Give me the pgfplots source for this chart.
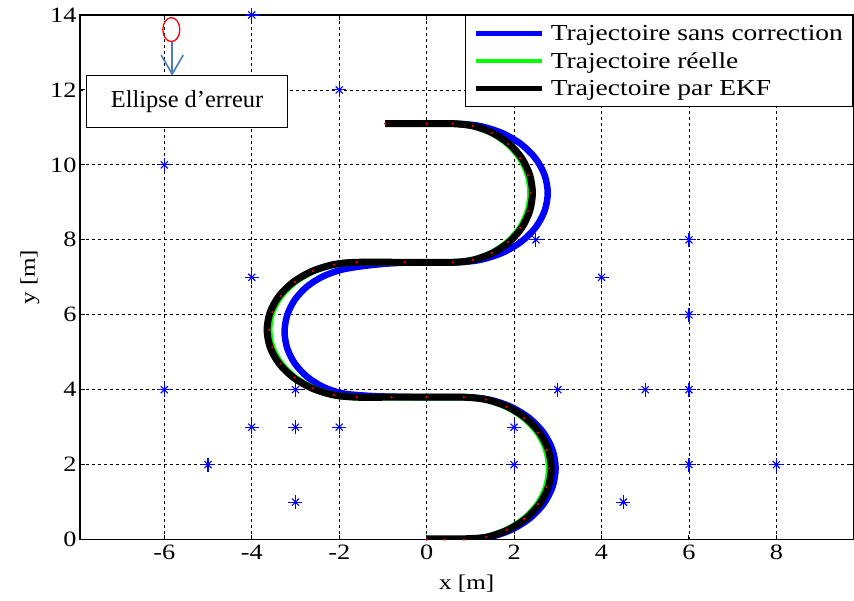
\documentclass[border=0pt]{standalone}
\usepackage{fontspec}
\setmainfont{Liberation Serif}
\newfontfamily\stretchfont{Liberation Serif}[FakeStretch=1.2]
\usepackage{pgfplots}
\pgfplotsset{compat=1.18}
\usetikzlibrary{arrows.meta}
\definecolor{arrowblue}{RGB}{74,126,187}

\pgfplotstableread{
x y
0 0
0.4 0
0.85 0
1.355 0.065
1.825 0.255
2.229 0.557
2.539 0.95
2.734 1.408
2.8 1.9
2.734 2.392
2.539 2.85
2.229 3.243
1.825 3.545
1.355 3.735
0.85 3.8
0 3.8
-0.8 3.8
-1.6 3.8
-2.118 3.861
-2.599 4.041
-3.013 4.327
-3.331 4.7
-3.531 5.134
-3.599 5.6
-3.531 6.066
-3.331 6.5
-3.013 6.873
-2.599 7.159
-2.118 7.339
-1.6 7.4
-0.5 7.4
0.6 7.4
1.059 7.463
1.487 7.648
1.855 7.942
2.137 8.325
2.314 8.771
2.375 9.25
2.314 9.729
2.137 10.175
1.855 10.558
1.487 10.852
1.059 11.037
0.6 11.1
0 11.1
-0.95 11.1
}\reel

\pgfplotstableread{
x y
0 0.02
0.4 0.02
0.85 0.02
1.368 0.065
1.85 0.255
2.264 0.557
2.582 0.95
2.782 1.408
2.85 1.9
2.782 2.392
2.582 2.85
2.264 3.243
1.85 3.545
1.368 3.735
0.85 3.8
0 3.8
-0.8 3.8
-1.6 3.8
-2.131 3.861
-2.625 4.041
-3.049 4.327
-3.375 4.7
-3.58 5.134
-3.65 5.6
-3.58 6.066
-3.375 6.5
-3.049 6.873
-2.625 7.159
-2.131 7.339
-1.6 7.4
-0.5 7.4
0.6 7.4
1.071 7.463
1.51 7.648
1.887 7.942
2.176 8.325
2.358 8.771
2.42 9.25
2.358 9.729
2.176 10.175
1.887 10.558
1.51 10.852
1.071 11.037
0.6 11.1
0 11.1
-0.95 11.1
}\ekf

\pgfplotstableread{
x y
0 0
0.4 0
0.9 0
1.431 0.065
1.925 0.255
2.349 0.557
2.675 0.95
2.88 1.408
2.95 1.9
2.88 2.392
2.675 2.85
2.349 3.243
1.925 3.545
1.431 3.735
0.9 3.8
0 3.8
-1.0 3.82
-1.5 3.85
-1.953 3.908
-2.375 4.078
-2.737 4.348
-3.016 4.7
-3.19 5.11
-3.25 5.55
-3.19 5.99
-3.016 6.4
-2.737 6.752
-2.375 7.022
-1.953 7.2
-1.45 7.3
-0.85 7.37
-0.2 7.4
0.67 7.4
1.214 7.463
1.72 7.648
2.155 7.942
2.489 8.325
2.698 8.771
2.77 9.25
2.698 9.729
2.489 10.175
2.155 10.558
1.72 10.852
1.214 11.037
0.67 11.1
0 11.1
-0.9 11.1
}\sanscorr

\pgfplotstableread{
x y
-4 14
-2 12
-6 10
2.5 8
6 8
-4 7
4 7
6 6
-6 4
-3 4
3 4
5 4
6 4
-4 3
-3 3
-2 3
2 3
-5 2
2 2
6 2
8 2
-3 1
4.5 1
}\amers

\begin{document}
\begin{tikzpicture}
\begin{axis}[
  scale only axis,
  width=774bp, height=525bp,
  xmin=-7.93, xmax=9.76, ymin=0, ymax=14,
  xtick={-6,-4,...,8}, ytick={0,2,...,14},
  grid=major,
  grid style={black, line width=0.8bp, dash pattern=on 3bp off 3bp},
  axis line style={black, line width=1.3bp},
  tick style={black, line width=1bp},
  major tick length=5bp,
  tick align=inside,
  /pgf/number format/assume math mode=true,
  tick label style={font=\stretchfont\fontsize{22}{26}\selectfont},
  xticklabel style={yshift=-2bp},
  label style={font=\stretchfont\fontsize{21}{25}\selectfont},
  xlabel={x [m]}, ylabel={y [m]},
  xlabel style={yshift=-8bp},
  ylabel style={yshift=4bp},
  legend style={at={(1,1)}, anchor=north east, draw=black, line width=1bp,
    font=\stretchfont\fontsize{23}{27}\selectfont,
    inner xsep=8bp, inner ysep=7.5bp, row sep=6.5bp,
    /tikz/every odd column/.append style={column sep=5bp}},
  legend cell align=left,
  legend image code/.code={\draw[#1, line width=4.5bp] (0bp,0bp) -- (66bp,0bp);},
]
\addplot[only marks, mark=+, mark size=7bp, blue, line width=1.1bp, forget plot] table {\amers};
\addplot[only marks, mark=x, mark size=5bp, blue, line width=1.1bp, forget plot] table {\amers};
\addplot[blue, line width=6.5bp, smooth, tension=0.5, line join=round] table {\sanscorr};
\addlegendentry{Trajectoire sans correction}
\addplot[green, line width=6.5bp, smooth, tension=0.5, line join=round] table {\reel};
\addlegendentry{Trajectoire réelle}
\addplot[black, line width=7bp, smooth, tension=0.5, line join=round] table {\ekf};
\addlegendentry{Trajectoire par EKF}
\addplot[only marks, mark=*, mark size=0.9bp, red, forget plot] table {\reel};
\node[draw=black, fill=white, line width=1bp, minimum width=201bp, minimum height=52bp,
  inner sep=0pt, font=\fontsize{24.5}{28}\selectfont] at (axis cs:-5.48,11.68) {Ellipse d’erreur};
\draw[red, line width=1.3bp] (axis cs:-5.84,13.61) ellipse [x radius=8.5bp, y radius=12bp];
\draw[arrowblue, line width=1.6bp, -{Straight Barb[length=19bp, width=22bp]}]
  (axis cs:-5.82,13.28) -- (axis cs:-5.82,12.38);
\end{axis}
\path[use as bounding box] (-80bp,-61bp) rectangle (774bp,540bp);
\end{tikzpicture}
\end{document}
